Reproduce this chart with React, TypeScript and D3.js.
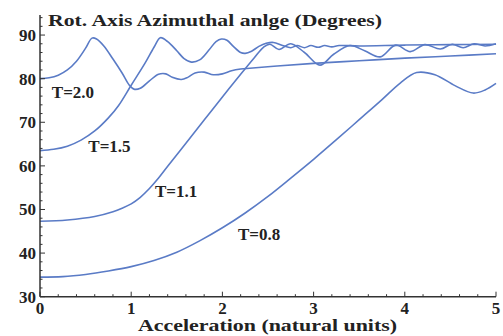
import React from "react";
import * as d3 from "d3";

// curve samples: [acceleration, angle in degrees]
const t08: [number, number][] = [
  [0, 34.5], [0.25, 34.6], [0.5, 35.1], [0.75, 35.9], [1, 36.9], [1.25, 38.3],
  [1.5, 40.2], [1.75, 42.8], [2, 45.8], [2.25, 49.2], [2.5, 53], [2.75, 57.2],
  [3, 61.5], [3.25, 66], [3.5, 70.6], [3.75, 75.2], [3.95, 79], [4.13, 81.4],
  [4.33, 80.9], [4.55, 78.4], [4.75, 76.7], [4.88, 77.4], [5, 78.9],
];

const t11: [number, number][] = [
  [0, 47.3], [0.3, 47.6], [0.6, 48.4], [0.8, 49.5], [0.9, 50.3], [1, 51.3],
  [1.1, 52.8], [1.2, 54.8], [1.3, 57.2], [1.4, 59.9], [1.6, 65.2], [1.8, 70.5],
  [2, 75.8], [2.2, 81], [2.35, 84.8], [2.45, 87.2], [2.52, 87.9], [2.62, 86.7],
  [2.75, 88], [2.9, 86], [3.07, 83.1], [3.22, 85.6], [3.4, 87.6], [3.56, 86.4],
  [3.73, 85], [3.9, 87.7], [4.06, 86.2], [4.22, 87.8], [4.39, 86.8], [4.52, 87.9],
  [4.64, 87.1], [4.76, 88], [4.88, 87.5], [5, 88],
];

const t15: [number, number][] = [
  [0, 63.5], [0.15, 63.8], [0.3, 64.5], [0.45, 65.9], [0.6, 68], [0.75, 71],
  [0.86, 73.8], [1, 78.5], [1.15, 83.5], [1.25, 87.2], [1.32, 89.4], [1.4, 88.5],
  [1.5, 86.4], [1.58, 84.6], [1.66, 83.8], [1.75, 84.3], [1.85, 86.5], [1.93, 88.5],
  [1.99, 89.1], [2.05, 88.8], [2.12, 87.4], [2.2, 86], [2.25, 85.8], [2.32, 86.3],
  [2.4, 87.4], [2.48, 88.1], [2.56, 88.3], [2.66, 87.6], [2.75, 87.1], [2.82, 87.6],
  [2.9, 87.1], [2.97, 87.6], [3.05, 87.2], [3.12, 87.6], [3.2, 87.3], [3.28, 87.6],
  [3.5, 87.5], [4, 87.7], [4.5, 87.8], [5, 87.9],
];

const t20: [number, number][] = [
  [0, 80], [0.1, 80.2], [0.2, 80.8], [0.3, 82], [0.4, 84], [0.5, 87], [0.57, 89.3],
  [0.62, 89.1], [0.7, 87.5], [0.8, 84.5], [0.9, 81.3], [0.98, 78.5], [1.03, 77.6],
  [1.1, 77.8], [1.2, 79.5], [1.3, 81], [1.38, 81.1], [1.45, 80.3], [1.55, 79.8],
  [1.62, 80.3], [1.7, 81.3], [1.8, 81.5], [1.9, 80.9], [2, 81.1], [2.1, 81.8],
  [2.2, 82.2], [2.3, 82.4], [2.6, 82.9], [3, 83.5], [3.5, 84.1], [4, 84.7],
  [4.5, 85.2], [5, 85.7],
];

const series = [t08, t11, t15, t20];

const curveLabels = [
  { text: "T=2.0", x: 0.13, y: 75.6 },
  { text: "T=1.5", x: 0.53, y: 63.2 },
  { text: "T=1.1", x: 1.26, y: 52.9 },
  { text: "T=0.8", x: 2.17, y: 42.9 },
];

const xTicks = [0, 1, 2, 3, 4, 5];
const yTicks = [30, 40, 50, 60, 70, 80, 90];

const title = "Rot. Axis Azimuthal anlge (Degrees)";
const xTitle = "Acceleration (natural units)";

const W = 503;
const H = 336;

export default function App() {
  const x = d3.scaleLinear().domain([0, 5]).range([40, 496]);
  const y = d3.scaleLinear().domain([30, 94.6]).range([296.7, 15]);

  const line = d3
    .line<[number, number]>()
    .x((d) => x(d[0]))
    .y((d) => y(d[1]))
    .curve(d3.curveCatmullRom.alpha(0.5));

  const xMinor = d3.range(0, 5.001, 0.2).filter((v) => Math.abs(v - Math.round(v)) > 1e-6);
  const yMinor = d3.range(30, 94.6, 2).filter((v) => v % 10 !== 0);

  const font = "'Liberation Serif', 'Times New Roman', serif";
  const axisColor = "#333";

  return (
    <svg
      width={W}
      height={H}
      style={{ position: "absolute", left: 0, top: 0, background: "#fff" }}
    >
      {/* curves */}
      <g fill="none" stroke="#5a7bc6" strokeWidth={1.6}>
        {series.map((s, i) => (
          <path key={i} d={line(s) ?? ""} />
        ))}
      </g>

      {/* axes */}
      <g stroke={axisColor} strokeWidth={1.5}>
        <line x1={x(0)} x2={x(0)} y1={y(30)} y2={y(94.6)} />
        <line x1={x(0)} x2={x(5)} y1={y(30)} y2={y(30)} />
      </g>
      <g stroke={axisColor} strokeWidth={1}>
        {yTicks.map((t) => (
          <line key={"ym" + t} x1={x(0)} x2={x(0) + 5} y1={y(t)} y2={y(t)} />
        ))}
        {yMinor.map((t) => (
          <line key={"yn" + t} x1={x(0)} x2={x(0) + 2.5} y1={y(t)} y2={y(t)} />
        ))}
        {xTicks.map((t) => (
          <line key={"xm" + t} x1={x(t)} x2={x(t)} y1={y(30)} y2={y(30) - 5} />
        ))}
        {xMinor.map((t) => (
          <line key={"xn" + t} x1={x(t)} x2={x(t)} y1={y(30)} y2={y(30) - 2.5} />
        ))}
      </g>

      {/* tick labels */}
      <g fontFamily={font} fontWeight="bold" fontSize={17} fill="#222">
        {yTicks.map((t) => (
          <text key={"yl" + t} x={x(0) - 4} y={y(t)} dy="0.35em" textAnchor="end">
            {t}
          </text>
        ))}
        {xTicks.map((t) => (
          <text key={"xl" + t} x={x(t)} y={y(30) + 17} textAnchor="middle">
            {t}
          </text>
        ))}
      </g>

      {/* curve labels */}
      <g fontFamily={font} fontWeight="bold" fontSize={17} fill="#222">
        {curveLabels.map((l) => (
          <text key={l.text} x={x(l.x)} y={y(l.y)}>
            {l.text}
          </text>
        ))}
      </g>

      <text
        x={48}
        y={26}
        fontFamily={font}
        fontWeight="bold"
        fontSize={17}
        fill="#222"
        textLength={334}
        lengthAdjust="spacingAndGlyphs"
      >
        {title}
      </text>
      <text
        x={138}
        y={331}
        fontFamily={font}
        fontWeight="bold"
        fontSize={17}
        fill="#222"
        textLength={259}
        lengthAdjust="spacingAndGlyphs"
      >
        {xTitle}
      </text>
    </svg>
  );
}
